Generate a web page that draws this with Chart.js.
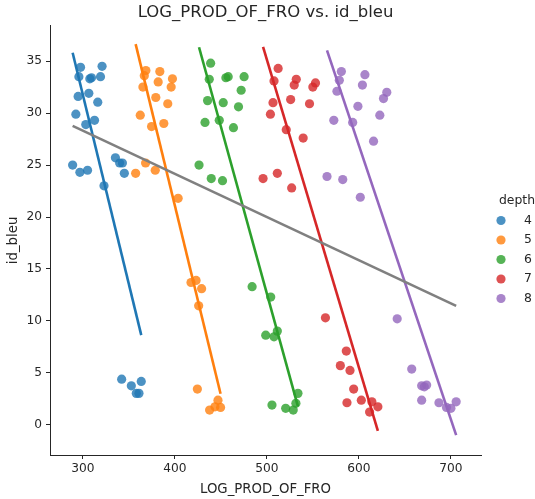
<!DOCTYPE html>
<html>
<head>
<meta charset="utf-8">
<script src="https://cdn.jsdelivr.net/npm/chart.js@4/dist/chart.umd.min.js"></script>
<style>
html,body{margin:0;padding:0;background:#fff;}
canvas{display:block;}
</style>
</head>
<body>
<canvas id="c" width="535" height="499"></canvas>
<script>
// ---- data ----
const depths = ['4', '5', '6', '7', '8'];
const xTicks = [300, 400, 500, 600, 700];
const yTicks = [0, 5, 10, 15, 20, 25, 30, 35];

const x4 = [297.5, 320.9, 295.7, 307.6, 309.4, 319.2, 294.9, 306.5, 316.2, 292.4, 303.2, 312.7, 288.9, 296.8, 305.1, 335.4, 340.0, 343.0, 345.1, 323.0, 342.2, 352.7, 363.5, 358.1, 361.0];
const y4 = [34.4, 34.5, 33.5, 33.3, 33.4, 33.5, 31.6, 31.9, 31.05, 29.9, 28.9, 29.3, 25.0, 24.3, 24.5, 25.7, 25.2, 25.2, 24.2, 23.0, 4.4, 3.76, 4.18, 3.03, 3.03];

const x5 = [368.5, 383.7, 366.8, 397.4, 381.9, 365.3, 396.0, 379.3, 392.3, 362.4, 388.0, 374.7, 368.2, 378.7, 357.4, 403.6, 417.6, 423.1, 429.1, 425.9, 424.5, 446.9, 443.6, 449.7, 437.8];
const y5 = [34.1, 34.0, 33.6, 33.3, 33.0, 32.5, 32.5, 31.5, 30.9, 29.8, 29.0, 28.7, 25.2, 24.5, 24.2, 21.8, 13.7, 13.9, 13.1, 11.45, 3.44, 2.38, 1.74, 1.68, 1.42];

const x6 = [438.9, 437.4, 455.5, 458.0, 475.3, 472.1, 435.6, 452.6, 469.2, 432.8, 448.3, 463.7, 426.3, 439.6, 451.8, 484.0, 504.2, 498.8, 511.4, 507.8, 533.8, 531.6, 505.6, 520.5, 528.7];
const y6 = [34.8, 33.25, 33.4, 33.5, 33.5, 32.2, 31.2, 31.0, 30.6, 29.1, 29.3, 28.6, 25.0, 23.7, 23.5, 13.3, 12.3, 8.63, 9.02, 8.47, 3.03, 2.07, 1.9, 1.59, 1.42];

const x7 = [512.3, 507.8, 532.0, 529.8, 552.9, 550.0, 506.7, 525.9, 546.4, 503.9, 521.1, 539.5, 511.4, 527.0, 495.9, 563.7, 586.4, 579.9, 590.4, 594.4, 587.1, 602.7, 614.2, 620.7, 611.7];
const y7 = [34.3, 33.1, 33.25, 32.7, 32.9, 32.5, 31.0, 31.3, 30.9, 29.9, 28.4, 27.6, 24.2, 22.8, 23.7, 10.3, 7.1, 5.7, 5.24, 3.44, 2.13, 2.38, 2.22, 1.74, 1.23];

const x8 = [581.0, 606.6, 578.8, 603.9, 630.4, 626.8, 576.2, 599.0, 622.8, 572.8, 593.3, 616.0, 565.4, 582.5, 601.6, 641.7, 657.5, 668.3, 673.7, 671.2, 668.3, 687.1, 695.3, 700.1, 705.8];
const y8 = [34.0, 33.7, 33.15, 32.7, 32.0, 31.4, 32.1, 30.65, 29.8, 29.3, 29.1, 27.3, 23.9, 23.6, 21.9, 10.2, 5.37, 3.76, 3.83, 3.66, 2.38, 2.13, 1.68, 1.59, 2.22];

const seriesX = [x4, x5, x6, x7, x8];
const seriesY = [y4, y5, y6, y7, y8];
const colors = ['#1f77b4', '#ff7f0e', '#2ca02c', '#d62728', '#9467bd'];

// ---- helpers ----
function hexA(hex, a) {
  const n = parseInt(hex.slice(1), 16);
  return `rgba(${(n >> 16) & 255},${(n >> 8) & 255},${n & 255},${a})`;
}
function fit(xs, ys) {
  const n = xs.length;
  const mx = xs.reduce((s, v) => s + v, 0) / n;
  const my = ys.reduce((s, v) => s + v, 0) / n;
  let sxy = 0, sxx = 0;
  for (let i = 0; i < n; i++) { sxy += (xs[i] - mx) * (ys[i] - my); sxx += (xs[i] - mx) ** 2; }
  const b = sxy / sxx, a = my - b * mx;
  const lo = Math.min(...xs), hi = Math.max(...xs);
  return [{x: lo, y: a + b * lo}, {x: hi, y: a + b * hi}];
}

const FONT = "'DejaVu Sans', sans-serif";
const datasets = [];
let ord = 100;
depths.forEach((d, i) => {
  datasets.push({
    type: 'scatter', label: d, order: ord--,
    data: seriesX[i].map((x, k) => ({x, y: seriesY[i][k]})),
    backgroundColor: hexA(colors[i], 0.8), borderWidth: 0, pointRadius: 4.6, pointHoverRadius: 4.6
  });
  datasets.push({
    type: 'line', label: 'fit ' + d, order: ord--,
    data: fit(seriesX[i], seriesY[i]),
    borderColor: colors[i], borderWidth: 2.6, pointRadius: 0, fill: false, tension: 0
  });
});
const allX = [].concat(...seriesX), allY = [].concat(...seriesY);
datasets.push({
  type: 'line', label: 'all', order: 0,
  data: fit(allX, allY),
  borderColor: '#808080', borderWidth: 2.6, pointRadius: 0, fill: false, tension: 0
});

const legendPlugin = {
  id: 'depthLegend',
  afterLayout(chart) {
    // center the title over the plot area (as matplotlib does)
    const t = chart.titleBlock;
    if (t) {
      t.left = 0;
      t.right = chart.chartArea.left + chart.chartArea.right;
      t.width = t.right - t.left;
    }
  },
  afterDraw(chart) {
    const ctx = chart.ctx;
    ctx.save();
    ctx.font = `12.4px ${FONT}`;
    ctx.fillStyle = '#262626';
    ctx.textBaseline = 'middle';
    ctx.textAlign = 'left';
    ctx.fillText('depth', 499, 201);
    depths.forEach((d, i) => {
      const y = 220.5 + i * 19.5;
      ctx.beginPath();
      ctx.fillStyle = hexA(colors[i], 0.8);
      ctx.arc(501, y, 4.6, 0, Math.PI * 2);
      ctx.fill();
      ctx.fillStyle = '#262626';
      ctx.fillText(d, 524, y);
    });
    ctx.restore();
  }
};

new Chart(document.getElementById('c'), {
  data: {datasets},
  options: {
    responsive: false, animation: false,
    layout: {padding: {left: 0, right: 54, top: 0, bottom: 0}},
    plugins: {
      legend: {display: false}, tooltip: {enabled: false},
      title: {display: true, text: 'LOG_PROD_OF_FRO vs. id_bleu', color: '#262626',
        font: {family: FONT, size: 16.5, weight: 'normal'}, padding: {top: 3, bottom: 3}}
    },
    scales: {
      x: {
        type: 'linear', min: 264.3, max: 732.8,
        afterBuildTicks: s => { s.ticks = xTicks.map(v => ({value: v})); },
        afterFit: s => { s.height = 44; },
        grid: {drawOnChartArea: false, drawTicks: true, tickLength: 4, color: '#262626', lineWidth: 1},
        border: {display: true, color: '#262626', width: 1},
        ticks: {color: '#262626', font: {family: FONT, size: 12.2}, padding: 3, maxRotation: 0, autoSkip: false},
        title: {display: true, text: 'LOG_PROD_OF_FRO', color: '#262626', font: {family: FONT, size: 13.3}, padding: {top: 0, bottom: 1.3}}
      },
      y: {
        type: 'linear', min: -2.9, max: 38.4,
        afterBuildTicks: s => { s.ticks = yTicks.map(v => ({value: v})); },
        afterFit: s => { s.width = 50; },
        grid: {drawOnChartArea: false, drawTicks: true, tickLength: 4, color: '#262626', lineWidth: 1},
        border: {display: true, color: '#262626', width: 1},
        ticks: {color: '#262626', font: {family: FONT, size: 12.2}, padding: 4, autoSkip: false},
        title: {display: true, text: 'id_bleu', color: '#262626', font: {family: FONT, size: 13.3}, padding: {top: 5.5, bottom: 0}}
      }
    }
  },
  plugins: [legendPlugin]
});
</script>
</body>
</html>
